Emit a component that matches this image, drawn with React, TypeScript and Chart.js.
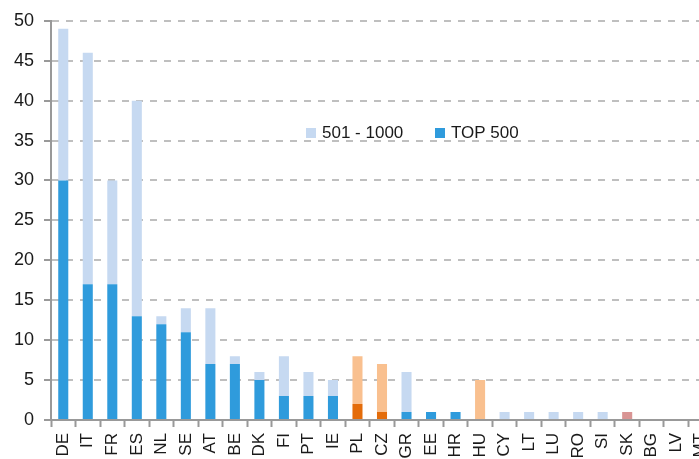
import React, { useEffect, useRef } from "react";
import { Chart, registerables } from "chart.js";

Chart.register(...registerables);

const categories = ["DE", "IT", "FR", "ES", "NL", "SE", "AT", "BE", "DK", "FI", "PT", "IE", "PL", "CZ", "GR", "EE", "HR", "HU", "CY", "LT", "LU", "RO", "SI", "SK", "BG", "LV", "MT"];
const top500 = [30, 17, 17, 13, 12, 11, 7, 7, 5, 3, 3, 3, 2, 1, 1, 1, 1, 0, 0, 0, 0, 0, 0, 0, 0, 0, 0];
const rank501to1000 = [19, 29, 13, 27, 1, 3, 7, 1, 1, 5, 3, 2, 6, 6, 5, 0, 0, 5, 1, 1, 1, 1, 1, 1, 0, 0, 0];
const yTicks = [0, 5, 10, 15, 20, 25, 30, 35, 40, 45, 50];
const legendLabels = ["501 - 1000", "TOP 500"];

const BLUE = "#2F9BDC";
const LIGHT_BLUE = "#C6D9F1";
const DARK_ORANGE = "#E46C0A";
const LIGHT_ORANGE = "#F9C08F";
const ROSE = "#D99594";

const orangeDark = new Set(["PL", "CZ"]);
const orangeLight = new Set(["PL", "CZ", "HU"]);

const topColors = categories.map((c) => (orangeDark.has(c) ? DARK_ORANGE : BLUE));
const secondColors = categories.map((c) =>
  c === "SK" ? ROSE : orangeLight.has(c) ? LIGHT_ORANGE : LIGHT_BLUE
);

const FONT = "'Liberation Sans', Arial, sans-serif";

const legendPlugin = {
  id: "customLegend",
  afterDraw(chart: any) {
    const ctx = chart.ctx;
    ctx.save();
    ctx.font = `17px ${FONT}`;
    ctx.textBaseline = "middle";
    ctx.textAlign = "left";
    const items = [
      { label: legendLabels[0], color: LIGHT_BLUE, x: 306 },
      { label: legendLabels[1], color: BLUE, x: 435 },
    ];
    const y = 133;
    for (const it of items) {
      ctx.fillStyle = it.color;
      ctx.fillRect(it.x, y - 5, 10, 10);
      ctx.fillStyle = "#1a1a1a";
      ctx.fillText(it.label, it.x + 16, y);
    }
    ctx.restore();
  },
};

export default function App() {
  const ref = useRef<HTMLCanvasElement>(null);

  useEffect(() => {
    document.documentElement.style.overflow = "hidden";
    document.body.style.overflow = "hidden";
    const canvas = ref.current!;
    const chart = new Chart(canvas, {
      type: "bar",
      data: {
        labels: categories,
        datasets: [
          {
            label: legendLabels[1],
            data: top500,
            backgroundColor: topColors,
            barPercentage: 0.41,
            categoryPercentage: 1,
          },
          {
            label: legendLabels[0],
            data: rank501to1000,
            backgroundColor: secondColors,
            barPercentage: 0.41,
            categoryPercentage: 1,
          },
        ],
      },
      options: {
        responsive: false,
        animation: false,
        devicePixelRatio: 1,
        layout: { padding: { top: 20, right: 0, left: 0, bottom: 0 } },
        plugins: {
          legend: { display: false },
          tooltip: { enabled: false },
        },
        scales: {
          x: {
            stacked: true,
            afterFit: (s: any) => {
              s.height = 39;
              s.paddingRight = 7;
            },
            grid: {
              display: true,
              drawOnChartArea: false,
              drawTicks: true,
              tickLength: 7,
              tickColor: "#999999",
              tickWidth: 2,
              offset: true,
            },
            border: { display: true, color: "#999999", width: 2 },
            ticks: {
              autoSkip: false,
              maxRotation: 90,
              minRotation: 90,
              padding: 6,
              color: "#1a1a1a",
              font: { family: FONT, size: 17 },
            },
          },
          y: {
            stacked: true,
            min: 0,
            max: 50,
            afterFit: (s: any) => {
              s.width = 51;
            },
            afterBuildTicks: (s: any) => {
              s.ticks = yTicks.map((v) => ({ value: v }));
            },
            grid: {
              color: "#BFBFBF",
              lineWidth: 2,
              tickLength: 7,
              tickColor: "#999999",
              tickWidth: 2,
              tickBorderDash: [],
            },
            border: { display: true, color: "#999999", width: 2, dash: [7, 7] },
            ticks: {
              padding: 10,
              color: "#1a1a1a",
              font: { family: FONT, size: 18 },
            },
          },
        },
      },
      plugins: [legendPlugin],
    });
    return () => chart.destroy();
  }, []);

  return (
    <div style={{ position: "absolute", left: 0, top: 0, width: 720, height: 459 }}>
      <canvas ref={ref} width={720} height={459} style={{ display: "block" }} />
    </div>
  );
}
